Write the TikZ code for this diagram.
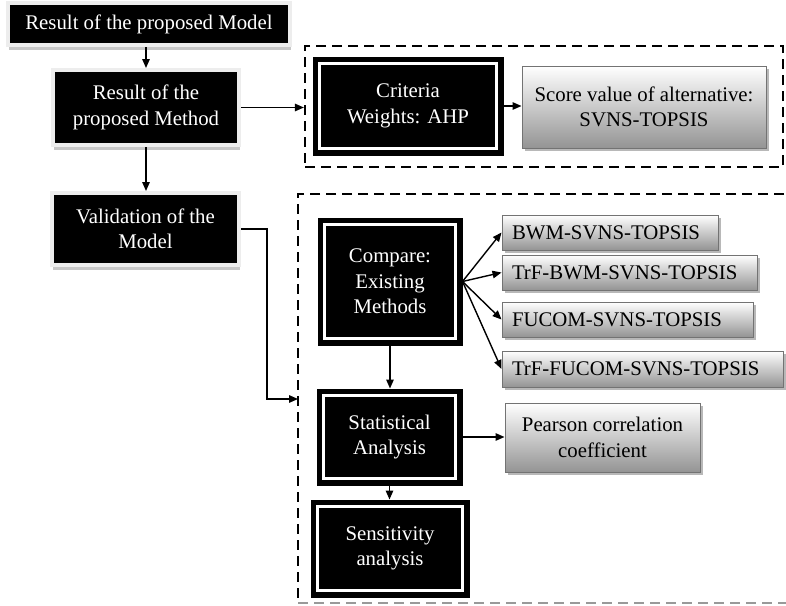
\documentclass[tikz,border=0pt]{standalone}
\usepackage{fontspec}
\setmainfont{Liberation Serif}
\usetikzlibrary{arrows.meta,shadows}
\begin{document}
\begin{tikzpicture}[x=1pt,y=-1pt,
  every node/.style={font=\fontsize{20.8}{25.5}\selectfont, inner sep=0pt, align=center},
  plainbox/.style={rectangle, fill=black, text=white, draw=black!7, line width=4pt,
    drop shadow={shadow xshift=0.5pt, shadow yshift=-5pt, fill=black!22, opacity=1}},
  dblbox/.style={rectangle, fill=black, text=white, draw=black, line width=1pt,
    path picture={\draw[white, line width=2.3pt]
      ([shift={(6.5,6.5)}]path picture bounding box.north west) rectangle
      ([shift={(-6.5,-6.5)}]path picture bounding box.south east);}},
  gradbox/.style={rectangle, top color=white, bottom color=black!42, draw=black!55, line width=1pt,
    drop shadow={shadow xshift=2.5pt, shadow yshift=-3pt, fill=black!28, opacity=1}},
  dashbox/.style={draw=black, dash pattern=on 10pt off 6pt, line width=2.2pt},
  arr/.style={line width=1.4pt, -{Triangle[length=9pt,width=7.5pt]}}
]
\useasboundingbox (0,0) rectangle (786,605);

% dashed groups
\node[dashbox, minimum width=478, minimum height=121] (g1) at (544,106.5) {};
\begin{scope}
  \clip (0,0) rectangle (786,605);
  \draw[dashbox] (800,194) -- (298,194) -- (298,603);
  \draw[dashbox, draw=black!40] (298,603) -- (800,603);
\end{scope}
\coordinate (g2in) at (298,399);

% left column
\node[plainbox, minimum width=282, minimum height=42] (m1) at (149,24) {Result of the proposed Model};
\node[plainbox, minimum width=186, minimum height=75] (m2) at (146,107.5) {Result of the\\proposed Method};
\node[plainbox, minimum width=187, minimum height=72] (m3) at (145.5,229) {Validation of the\\Model};

% upper group
\node[dblbox, minimum width=190, minimum height=98] (cw) at (408,106) {Criteria\\Weights: AHP};
\node[gradbox, minimum width=244, minimum height=82] (sv) at (644,107) {Score value of alternative:\\SVNS-TOPSIS};

% lower group
\node[dblbox, minimum width=144, minimum height=127] (cmp) at (390,281.5) {Compare:\\Existing\\Methods};
\node[gradbox, minimum width=216, minimum height=35, text width=196, align=left] (b1) at (610,232.5) {BWM-SVNS-TOPSIS};
\node[gradbox, minimum width=255, minimum height=35, text width=235, align=left] (b2) at (629.5,272.5) {TrF-BWM-SVNS-TOPSIS};
\node[gradbox, minimum width=251, minimum height=35, text width=231, align=left] (b3) at (627.5,319.5) {FUCOM-SVNS-TOPSIS};
\node[gradbox, minimum width=281, minimum height=36, text width=261, align=left] (b4) at (642.5,369) {TrF-FUCOM-SVNS-TOPSIS};
\node[dblbox, minimum width=145, minimum height=96] (st) at (389.5,437) {Statistical\\Analysis};
\node[gradbox, minimum width=195, minimum height=69] (pc) at (602.5,437.5) {Pearson correlation\\coefficient};
\node[dblbox, minimum width=158, minimum height=97] (se) at (390,548.5) {Sensitivity\\analysis};

% connectors
\draw[arr] (m2.north |- m1.south) -- (m2.north);
\draw[arr] (m2.south) -- (m3.north -| m2.south);
\draw[arr] (m2.east) -- (g1.west |- m2.east);
\draw[arr] (cw.east) -- (sv.west |- cw.east);
\draw[arr] (m3.east) -- ++(26,0) |- (g2in);
\draw[arr] (cmp.east) -- (b1.west);
\draw[arr] (cmp.east) -- (b2.west);
\draw[arr] (cmp.east) -- (b3.west);
\draw[arr] (cmp.east) -- (b4.west);
\draw[arr] (cmp.south) -- (st.north -| cmp.south);
\draw[arr] (st.east) -- (pc.west |- st.east);
\draw[arr] (st.south) -- (se.north -| st.south);
\end{tikzpicture}
\end{document}
